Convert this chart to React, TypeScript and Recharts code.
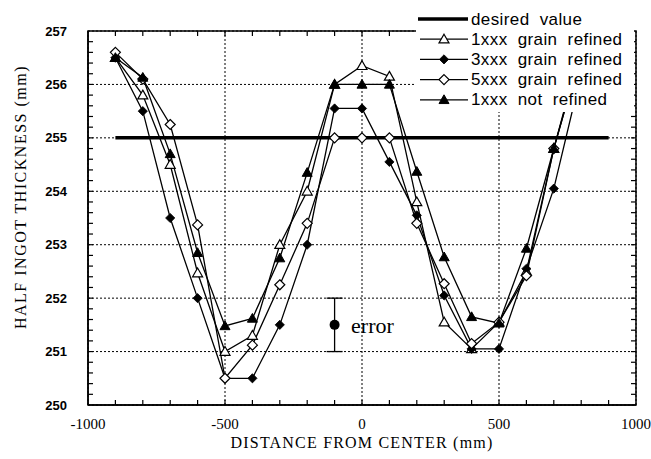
import React from 'react';
import {
  ComposedChart,
  Line,
  Scatter,
  ErrorBar,
  LabelList,
  XAxis,
  YAxis,
  CartesianGrid,
  ReferenceArea,
  Legend,
} from 'recharts';

// positions along the ingot (mm)
const distances = [-900, -800, -700, -600, -500, -400, -300, -200, -100, 0, 100, 200, 300, 400, 500, 600, 700, 800];

// half ingot thickness (mm) per alloy
const grainRefined1xxx = [256.5, 255.8, 254.5, 252.47, 251.0, 251.3, 253.0, 254.0, 256.0, 256.35, 256.15, 253.8, 251.55, 251.05, 251.55, 252.5, 254.8, 256.7];
const grainRefined3xxx = [256.5, 255.5, 253.5, 252.0, 250.5, 250.5, 251.5, 253.0, 255.55, 255.55, 254.55, 253.55, 252.05, 251.05, 251.05, 252.55, 254.05, 256.2];
const grainRefined5xxx = [256.6, 256.1, 255.25, 253.37, 250.5, 251.12, 252.25, 253.4, 255.0, 255.0, 255.0, 253.4, 252.27, 251.15, 251.55, 252.42, 254.8, 256.6];
const notRefined1xxx = [256.5, 256.13, 254.7, 252.85, 251.48, 251.62, 252.75, 254.35, 256.0, 256.0, 256.0, 254.37, 252.77, 251.65, 251.53, 252.93, 254.8, 256.6];

const desiredX = [-900, 900];
const desiredY = [255, 255];

// error annotation
const errorX = [-100];
const errorY = [251.5];
const errorHalf = [0.5];
const errorText = ['error'];

const xDomain = [-1000, 1000];
const yDomain = [250, 257];
const xTicks = [-1000, -500, 0, 500, 1000];
const yTicks = [250, 251, 252, 253, 254, 255, 256, 257];
const xMinorTicks = Array.from({ length: 19 }, (_, i) => -900 + i * 100);
const yMinorTicks = Array.from({ length: 34 }, (_, i) => Math.round((250.2 + i * 0.2) * 10) / 10);

// layout
const W = 651;
const H = 459;
const Y_AXIS_W = 88;
const X_AXIS_H = 54;
const MARGIN = { top: 31, right: 15, bottom: 0, left: 0 };
const PLOT_W = W - Y_AXIS_W - MARGIN.left - MARGIN.right;
const PLOT_H = H - X_AXIS_H - MARGIN.top - MARGIN.bottom;
const Y_TICK_GAP = 21;
const X_TICK_GAP = 12;
const MINOR = 5;

type Marker = 'openTriangle' | 'filledDiamond' | 'openDiamond' | 'filledTriangle';

const seriesList: { name: string; values: number[]; marker: Marker }[] = [
  { name: '1xxx grain refined', values: grainRefined1xxx, marker: 'openTriangle' },
  { name: '3xxx grain refined', values: grainRefined3xxx, marker: 'filledDiamond' },
  { name: '5xxx grain refined', values: grainRefined5xxx, marker: 'openDiamond' },
  { name: '1xxx not refined', values: notRefined1xxx, marker: 'filledTriangle' },
];

const toPoints = (xs: number[], ys: number[]) => xs.map((x, i) => ({ x, y: ys[i] }));

const tri = (cx: number, cy: number, r: number) =>
  `M${cx},${cy - r} L${cx + r},${cy + r * 0.75} L${cx - r},${cy + r * 0.75} Z`;
const dia = (cx: number, cy: number, r: number) =>
  `M${cx},${cy - r} L${cx + r},${cy} L${cx},${cy + r} L${cx - r},${cy} Z`;

function MarkerShape({ kind, cx, cy }: { kind: Marker; cx: number; cy: number }) {
  if (cx == null || cy == null) return null;
  switch (kind) {
    case 'openTriangle':
      return <path d={tri(cx, cy, 5)} fill="#fff" stroke="#000" strokeWidth={1.2} />;
    case 'filledTriangle':
      return <path d={tri(cx, cy, 5)} fill="#000" stroke="#000" strokeWidth={1} />;
    case 'openDiamond':
      return <path d={dia(cx, cy, 5)} fill="#fff" stroke="#000" strokeWidth={1.2} />;
    default:
      return <path d={dia(cx, cy, 4.6)} fill="#000" stroke="#000" strokeWidth={0.8} />;
  }
}

const serif = '"Liberation Serif", "Times New Roman", serif';
const sans = '"Liberation Sans", Arial, sans-serif';

function YTick(props: any) {
  const x = Number(props.x);
  const y = Number(props.y);
  const v = Number(props.payload?.value);
  return (
    <text x={x} y={y} textAnchor="end" dominantBaseline="central" fontFamily={sans} fontSize={13} fontWeight="bold" fill="#000">
      {v}
    </text>
  );
}

function XTick(props: any) {
  const x = Number(props.x);
  const y = Number(props.y);
  const v = Number(props.payload?.value);
  return (
    <text x={x} y={y + 7} textAnchor="middle" dominantBaseline="central" fontFamily={serif} fontSize={15} fill="#000">
      {v}
    </text>
  );
}

function YTitle(props: any) {
  const vb = props.viewBox || { x: 0, y: 0, height: 0 };
  const cx = vb.x + 20;
  const cy = vb.y + vb.height / 2 - 21;
  return (
    <text
      x={cx}
      y={cy}
      transform={`rotate(-90, ${cx}, ${cy})`}
      textAnchor="middle"
      dominantBaseline="central"
      fontFamily={serif}
      fontSize={16}
      letterSpacing={1.5}
      fill="#000"
    >
      HALF INGOT THICKNESS (mm)
    </text>
  );
}

function XTitle(props: any) {
  const vb = props.viewBox || { x: 0, y: 0, width: 0 };
  return (
    <text
      x={vb.x + vb.width / 2}
      y={vb.y + 37}
      textAnchor="middle"
      dominantBaseline="central"
      fontFamily={serif}
      fontSize={16}
      letterSpacing={1.2}
      fill="#000"
    >
      DISTANCE FROM CENTER (mm)
    </text>
  );
}

function LegendBox() {
  const rowY = (i: number) => 19 + i * 20.2;
  return (
    <svg width={218} height={112} style={{ display: 'block', background: '#fff' }}>
      <line x1={2} x2={52} y1={rowY(0)} y2={rowY(0)} stroke="#000" strokeWidth={3.5} />
      <text x={55} y={rowY(0)} dominantBaseline="central" fontFamily={sans} fontSize={17} wordSpacing={5} letterSpacing={0.4} fill="#000">
        desired value
      </text>
      {seriesList.map((s, i) => (
        <g key={s.name}>
          <line x1={4} x2={52} y1={rowY(i + 1)} y2={rowY(i + 1)} stroke="#000" strokeWidth={1.2} />
          <MarkerShape kind={s.marker} cx={28} cy={rowY(i + 1)} />
          <text x={55} y={rowY(i + 1)} dominantBaseline="central" fontFamily={sans} fontSize={17} wordSpacing={5} letterSpacing={0.4} fill="#000">
            {s.name}
          </text>
        </g>
      ))}
    </svg>
  );
}

// major grid positions from the chart's own plot box
const gridRows = (arg: any) => {
  const o = arg?.offset || { top: MARGIN.top, height: PLOT_H };
  return yTicks.map((v) => o.top + ((yDomain[1] - v) / (yDomain[1] - yDomain[0])) * o.height);
};
const gridCols = (arg: any) => {
  const o = arg?.offset || { left: MARGIN.left + Y_AXIS_W, width: PLOT_W };
  return xTicks.map((v) => o.left + ((v - xDomain[0]) / (xDomain[1] - xDomain[0])) * o.width);
};

// inward minor tick marks, placed on the frame through the chart scales
const bottomTicks = xMinorTicks.map((x) => ({ x, y: yDomain[0] }));
const topTicks = xMinorTicks.map((x) => ({ x, y: yDomain[1] }));
const leftTicks = yMinorTicks.map((y) => ({ x: xDomain[0], y }));
const rightTicks = yMinorTicks.map((y) => ({ x: xDomain[1], y }));

const tickShape = (dx: number, dy: number) => (p: any) =>
  p.cx == null ? <g /> : <path d={`M${p.cx},${p.cy}l${dx},${dy}`} stroke="#000" strokeWidth={1.2} fill="none" />;

export default function App() {
  const errorData = errorX.map((x, i) => ({ x, y: errorY[i], err: errorHalf[i], label: errorText[i] }));

  return (
    <div style={{ position: 'absolute', left: 0, top: 0, width: W, height: H, background: '#fff' }}>
      <ComposedChart width={W} height={H} margin={MARGIN}>
        <CartesianGrid
          stroke="#000"
          strokeDasharray="2 2"
          strokeWidth={1}
          horizontalCoordinatesGenerator={gridRows}
          verticalCoordinatesGenerator={gridCols}
        />
        <XAxis
          type="number"
          dataKey="x"
          domain={xDomain}
          ticks={xTicks}
          interval={0}
          allowDataOverflow
          height={X_AXIS_H}
          tickLine={false}
          tickSize={0}
          tickMargin={X_TICK_GAP}
          axisLine={{ stroke: '#000', strokeWidth: 1.5 }}
          tick={(p: any) => <XTick {...p} />}
          label={<XTitle />}
        />
        <YAxis
          type="number"
          domain={yDomain}
          ticks={yTicks}
          interval={0}
          allowDataOverflow
          width={Y_AXIS_W}
          tickLine={false}
          tickSize={0}
          tickMargin={Y_TICK_GAP}
          axisLine={{ stroke: '#000', strokeWidth: 1.5 }}
          tick={(p: any) => <YTick {...p} />}
          label={<YTitle />}
        />
        <ReferenceArea x1={xDomain[0]} x2={xDomain[1]} y1={yDomain[0]} y2={yDomain[1]} fill="none" stroke="#000" strokeWidth={1.5} ifOverflow="visible" />

        <Scatter data={bottomTicks} dataKey="y" isAnimationActive={false} legendType="none" shape={tickShape(0, -MINOR)} />
        <Scatter data={topTicks} dataKey="y" isAnimationActive={false} legendType="none" shape={tickShape(0, MINOR)} />
        <Scatter data={leftTicks} dataKey="y" isAnimationActive={false} legendType="none" shape={tickShape(MINOR, 0)} />
        <Scatter data={rightTicks} dataKey="y" isAnimationActive={false} legendType="none" shape={tickShape(-MINOR, 0)} />

        <Line
          data={toPoints(desiredX, desiredY)}
          dataKey="y"
          name="desired value"
          type="linear"
          stroke="#000"
          strokeWidth={3.5}
          dot={false}
          activeDot={false}
          isAnimationActive={false}
        />
        {seriesList.map((s) => (
          <Line
            key={s.name}
            data={toPoints(distances, s.values)}
            dataKey="y"
            name={s.name}
            type="linear"
            stroke="#000"
            strokeWidth={1.3}
            dot={(p: any) => <MarkerShape key={`${s.name}-${p.index}`} kind={s.marker} cx={p.cx} cy={p.cy} />}
            activeDot={false}
            isAnimationActive={false}
          />
        ))}
        <Scatter
          data={errorData}
          dataKey="y"
          isAnimationActive={false}
          legendType="none"
          shape={(p: any) => <circle cx={p.cx} cy={p.cy} r={5} fill="#000" />}
        >
          <ErrorBar dataKey="err" direction="y" width={8} stroke="#000" strokeWidth={1.3} isAnimationActive={false} />
          <LabelList
            dataKey="label"
            position="right"
            offset={12}
            style={{ fontFamily: serif, fontSize: 22, fill: '#000' }}
          />
        </Scatter>

        <Legend
          layout="vertical"
          align="center"
          verticalAlign="middle"
          content={() => <LegendBox />}
          wrapperStyle={{ position: 'absolute', left: 416, top: 0, width: 218, height: 112 }}
        />
      </ComposedChart>
    </div>
  );
}
